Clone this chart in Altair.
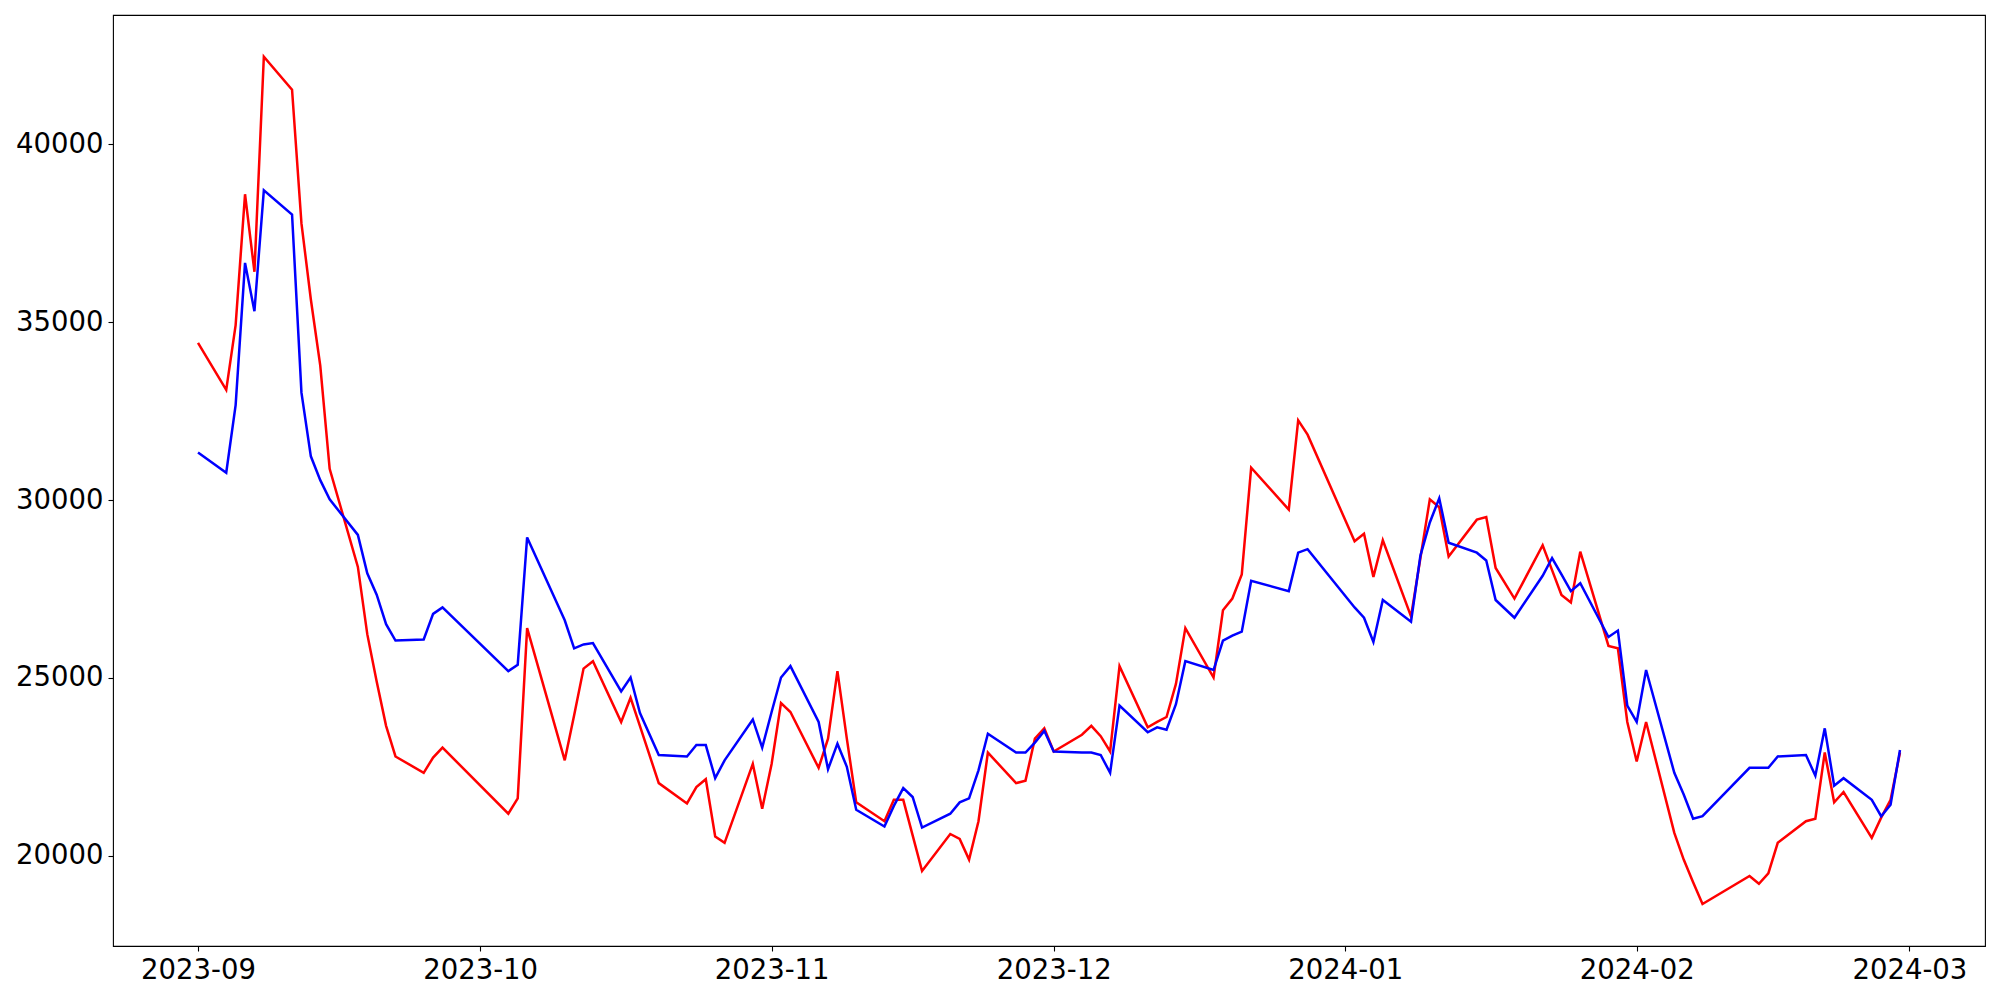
import altair as alt
import pandas as pd

dates = [
    "2023-09-01", "2023-09-04", "2023-09-05", "2023-09-06", "2023-09-07", "2023-09-08",
    "2023-09-11", "2023-09-12", "2023-09-13", "2023-09-14", "2023-09-15",
    "2023-09-18", "2023-09-19", "2023-09-20", "2023-09-21", "2023-09-22",
    "2023-09-25", "2023-09-26", "2023-09-27",
    "2023-10-04", "2023-10-05", "2023-10-06",
    "2023-10-10", "2023-10-11", "2023-10-12", "2023-10-13",
    "2023-10-16", "2023-10-17", "2023-10-18", "2023-10-20",
    "2023-10-23", "2023-10-24", "2023-10-25", "2023-10-26", "2023-10-27",
    "2023-10-30", "2023-10-31", "2023-11-01", "2023-11-02", "2023-11-03",
    "2023-11-06", "2023-11-07", "2023-11-08", "2023-11-09", "2023-11-10",
    "2023-11-13", "2023-11-14", "2023-11-15", "2023-11-16", "2023-11-17",
    "2023-11-20", "2023-11-21", "2023-11-22", "2023-11-23", "2023-11-24",
    "2023-11-27", "2023-11-28", "2023-11-29", "2023-11-30", "2023-12-01",
    "2023-12-04", "2023-12-05", "2023-12-06", "2023-12-07", "2023-12-08",
    "2023-12-11", "2023-12-12", "2023-12-13", "2023-12-14", "2023-12-15",
    "2023-12-18", "2023-12-19", "2023-12-20", "2023-12-21", "2023-12-22",
    "2023-12-26", "2023-12-27", "2023-12-28",
    "2024-01-02", "2024-01-03", "2024-01-04", "2024-01-05",
    "2024-01-08", "2024-01-09", "2024-01-10", "2024-01-11", "2024-01-12",
    "2024-01-15", "2024-01-16", "2024-01-17", "2024-01-19",
    "2024-01-22", "2024-01-23", "2024-01-24", "2024-01-25", "2024-01-26",
    "2024-01-29", "2024-01-30", "2024-01-31", "2024-02-01", "2024-02-02",
    "2024-02-05", "2024-02-06", "2024-02-07", "2024-02-08",
    "2024-02-13", "2024-02-14", "2024-02-15", "2024-02-16",
    "2024-02-19", "2024-02-20", "2024-02-21", "2024-02-22", "2024-02-23",
    "2024-02-26", "2024-02-27", "2024-02-28", "2024-02-29",
]

red_values = [
    34420, 33100, 34920, 38600, 36420, 42470,
    41540, 37780, 35640, 33780, 30880,
    28120, 26230, 24900, 23650, 22790,
    22330, 22760, 23040,
    21180, 21610, 26400,
    22680, 23950, 25260, 25470,
    23760, 24440, 23640, 22040,
    21470, 21930, 22150, 20540, 20360,
    22580, 21320, 22580, 24290, 24040,
    22470, 23290, 25190, 23290, 21500,
    20970, 21570, 21570, 20570, 19570,
    20610, 20470, 19890, 20970, 22900,
    22040, 22110, 23290, 23580, 22930,
    23400, 23650, 23360, 22930, 25330,
    23610, 23760, 23900, 24830, 26400,
    25010, 26900, 27230, 27910, 30910,
    29730, 32240, 31840,
    28840, 29050, 27840, 28870,
    26730, 28370, 30020, 29800, 28410,
    29450, 29520, 28090, 27230,
    28730, 28030, 27330, 27120, 28550,
    25900, 25830, 23760, 22650, 23760,
    20640, 19890, 19250, 18640,
    19430, 19210, 19500, 20360,
    20970, 21040, 22900, 21500, 21790,
    20500, 21070, 21570, 22900,
]

blue_values = [
    31340, 30770, 32670, 36670, 35310, 38710,
    38030, 33020, 31230, 30560, 30020,
    29020, 27940, 27340, 26510, 26050,
    26080, 26800, 26980,
    25190, 25370, 28950,
    26620, 25830, 25940, 25980,
    24620, 25010, 24010, 22830,
    22790, 23110, 23110, 22180, 22680,
    23830, 23040, 24040, 25010, 25330,
    23760, 22430, 23150, 22500, 21290,
    20820, 21400, 21900, 21650, 20790,
    21180, 21500, 21610, 22400, 23430,
    22900, 22900, 23180, 23510, 22930,
    22900, 22900, 22830, 22330, 24220,
    23470, 23610, 23540, 24260, 25470,
    25220, 26050, 26190, 26300, 27730,
    27440, 28520, 28620,
    26980, 26690, 26010, 27190,
    26580, 28440, 29370, 30050, 28800,
    28520, 28300, 27190, 26690,
    27870, 28370, 27910, 27440, 27660,
    26150, 26330, 24220, 23760, 25220,
    22330, 21720, 21040, 21110,
    22470, 22470, 22470, 22790,
    22830, 22250, 23580, 21970, 22180,
    21570, 21110, 21430, 22970,
]

y_ticks = [20000, 25000, 30000, 35000, 40000]
x_tick_months = [(2023, 9), (2023, 10), (2023, 11), (2023, 12), (2024, 1), (2024, 2), (2024, 3)]

red_df = pd.DataFrame({"date": dates, "value": red_values})
blue_df = pd.DataFrame({"date": dates, "value": blue_values})

FONT = "DejaVu Sans"
FS = 27.5

x_scale = alt.Scale(
    type="utc",
    domain=[
        alt.DateTime(year=2023, month=8, date=22, hours=23, minutes=0, utc=True),
        alt.DateTime(year=2024, month=3, date=9, hours=1, minutes=0, utc=True),
    ],
    nice=False,
)
y_scale = alt.Scale(domain=[17460, 43640], nice=False, zero=False)

x_axis = alt.Axis(
    title=None,
    values=[alt.DateTime(year=y, month=m, date=1, utc=True) for y, m in x_tick_months],
    labelExpr="utcFormat(datum.value, '%Y-%m')",
    grid=False,
    domain=False,
    tickColor="black",
    tickSize=5,
    tickWidth=1.1,
    labelFont=FONT,
    labelFontSize=FS,
    labelColor="black",
    labelPadding=5,
    labelAngle=0,
    labelFlush=False,
    labelOverlap=False,
)
y_axis = alt.Axis(
    title=None,
    values=y_ticks,
    format="d",
    grid=False,
    domain=False,
    tickColor="black",
    tickSize=5,
    tickWidth=1.1,
    labelFont=FONT,
    labelFontSize=FS,
    labelColor="black",
    labelPadding=5,
    labelFlush=False,
)

red = alt.Chart(red_df).mark_line(color="#ff0000", strokeWidth=2.5).encode(
    x=alt.X("date:T", scale=x_scale, axis=x_axis),
    y=alt.Y("value:Q", scale=y_scale, axis=y_axis),
)
blue = alt.Chart(blue_df).mark_line(color="#0000ff", strokeWidth=2.5).encode(
    x=alt.X("date:T", scale=x_scale, axis=x_axis),
    y=alt.Y("value:Q", scale=y_scale, axis=y_axis),
)

chart = (
    alt.layer(red, blue)
    .properties(
        width=1872,
        height=931,
        autosize=alt.AutoSizeParams(type="none"),
        padding={"left": 105, "top": 7, "right": 7, "bottom": 46},
        background="white",
    )
    .configure_view(stroke="black", strokeWidth=1.1)
)

chart.save("out.html", embed_options={"renderer": "svg", "actions": False})
